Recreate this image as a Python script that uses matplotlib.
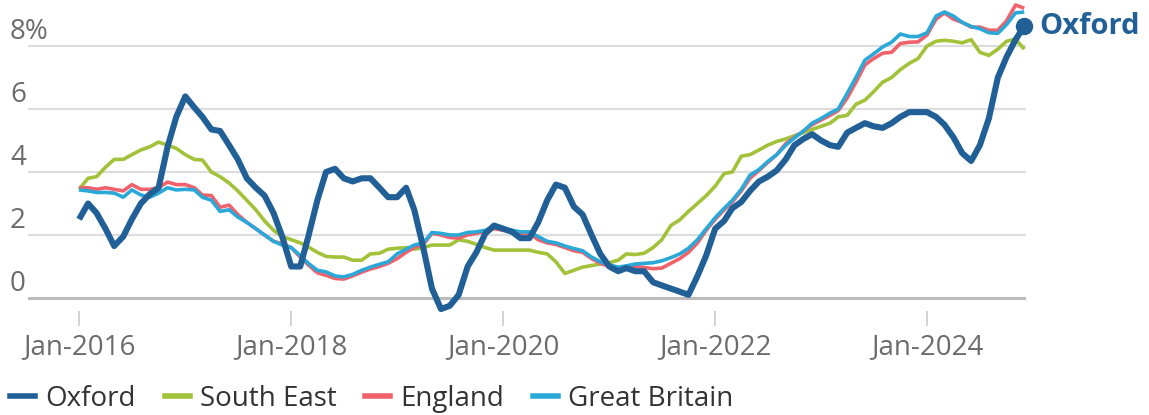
import matplotlib
matplotlib.use("Agg")
import matplotlib.pyplot as plt
import numpy as np
import pandas as pd
from matplotlib.lines import Line2D

plt.rcParams['font.family'] = ['Open Sans', 'DejaVu Sans']

# Monthly data Jan-2016 .. Dec-2024 (annual % change)
months = pd.date_range("2016-01-01", periods=108, freq="MS")

oxford = [2.5, 3.0, 2.7, 2.2, 1.65, 1.95, 2.5, 3.0, 3.3, 3.5, 4.8, 5.75,
          6.4, 6.05, 5.75, 5.35, 5.3, 4.85, 4.4, 3.8, 3.5, 3.25, 2.7, 1.95,
          1.0, 1.0, 1.95, 3.1, 4.0, 4.1, 3.8, 3.7, 3.8, 3.8, 3.5, 3.2,
          3.2, 3.5, 2.8, 1.6, 0.3, -0.35, -0.25, 0.1, 1.0, 1.45, 2.05, 2.3,
          2.2, 2.1, 1.9, 1.9, 2.4, 3.1, 3.6, 3.5, 2.9, 2.65, 2.0, 1.4,
          1.0, 0.85, 0.95, 0.85, 0.85, 0.5, 0.4, 0.3, 0.2, 0.1, 0.7, 1.35,
          2.2, 2.45, 2.85, 3.05, 3.4, 3.7, 3.85, 4.05, 4.4, 4.85, 5.05, 5.2,
          5.0, 4.85, 4.8, 5.25, 5.4, 5.55, 5.45, 5.4, 5.55, 5.75, 5.9, 5.9,
          5.9, 5.75, 5.5, 5.1, 4.6, 4.35, 4.85, 5.7, 7.0, 7.65, 8.2, 8.63]

south_east = [3.45, 3.8, 3.85, 4.15, 4.4, 4.4, 4.55, 4.7, 4.8, 4.95, 4.85, 4.75,
              4.55, 4.4, 4.38, 4.0, 3.85, 3.65, 3.4, 3.1, 2.8, 2.45, 2.15, 1.95,
              1.85, 1.75, 1.62, 1.45, 1.32, 1.3, 1.3, 1.2, 1.2, 1.4, 1.42, 1.55,
              1.58, 1.6, 1.55, 1.6, 1.68, 1.68, 1.68, 1.85, 1.8, 1.7, 1.6, 1.52,
              1.52, 1.52, 1.52, 1.52, 1.45, 1.4, 1.15, 0.78, 0.88, 0.98, 1.03, 1.08,
              1.12, 1.2, 1.4, 1.38, 1.42, 1.6, 1.85, 2.3, 2.48, 2.75, 3.0, 3.25,
              3.55, 3.95, 4.0, 4.5, 4.55, 4.7, 4.85, 4.97, 5.05, 5.15, 5.25, 5.35,
              5.45, 5.55, 5.75, 5.8, 6.15, 6.28, 6.55, 6.85, 7.0, 7.25, 7.45, 7.6,
              8.0, 8.15, 8.18, 8.15, 8.1, 8.2, 7.8, 7.7, 7.9, 8.15, 8.22, 7.9]

england = [3.5, 3.5, 3.45, 3.5, 3.45, 3.4, 3.6, 3.45, 3.45, 3.5, 3.68, 3.6,
           3.6, 3.5, 3.27, 3.25, 2.88, 2.95, 2.65, 2.4, 2.2, 2.0, 1.8, 1.72,
           1.6, 1.3, 1.05, 0.8, 0.72, 0.62, 0.6, 0.7, 0.82, 0.92, 1.0, 1.1,
           1.25, 1.45, 1.6, 1.7, 2.05, 2.0, 1.92, 1.9, 2.0, 2.05, 2.12, 2.2,
           2.15, 2.1, 2.05, 2.05, 1.85, 1.75, 1.7, 1.6, 1.5, 1.45, 1.25, 1.1,
           1.0, 0.95, 0.98, 1.0, 0.97, 0.93, 0.95, 1.1, 1.25, 1.45, 1.75, 2.15,
           2.5, 2.8, 3.05, 3.4, 3.8, 4.05, 4.3, 4.55, 4.9, 5.1, 5.3, 5.5,
           5.65, 5.8, 5.95, 6.35, 6.85, 7.4, 7.6, 7.77, 7.8, 8.08, 8.12, 8.13,
           8.35, 8.85, 9.05, 8.85, 8.75, 8.6, 8.6, 8.5, 8.5, 8.8, 9.3, 9.2]

great_britain = [3.43, 3.4, 3.35, 3.35, 3.33, 3.2, 3.43, 3.27, 3.2, 3.33, 3.5, 3.43,
                 3.45, 3.43, 3.2, 3.1, 2.75, 2.8, 2.57, 2.4, 2.2, 2.0, 1.8, 1.68,
                 1.6, 1.35, 1.1, 0.88, 0.83, 0.7, 0.67, 0.75, 0.88, 0.98, 1.07, 1.15,
                 1.4, 1.55, 1.68, 1.75, 2.08, 2.05, 2.0, 2.0, 2.08, 2.1, 2.15, 2.25,
                 2.2, 2.15, 2.1, 2.1, 1.95, 1.8, 1.75, 1.65, 1.57, 1.5, 1.3, 1.15,
                 1.05, 0.98, 1.02, 1.08, 1.1, 1.12, 1.18, 1.28, 1.4, 1.58, 1.85, 2.2,
                 2.55, 2.85, 3.1, 3.45, 3.9, 4.08, 4.33, 4.55, 4.85, 5.08, 5.3, 5.55,
                 5.7, 5.87, 6.0, 6.5, 7.0, 7.55, 7.75, 7.97, 8.12, 8.38, 8.3, 8.3,
                 8.42, 8.95, 9.08, 8.95, 8.75, 8.62, 8.55, 8.42, 8.4, 8.68, 9.05, 9.08]

series_names = ["Oxford", "South East", "England", "Great Britain"]
colors = {"Oxford": "#215f97", "South East": "#a2c23a",
          "England": "#f0626b", "Great Britain": "#2aa8d8"}
widths = {"Oxford": 4.4, "South East": 2.6, "England": 2.6, "Great Britain": 2.6}

xtick_dates = pd.to_datetime(["2016-01-01", "2018-01-01", "2020-01-01",
                              "2022-01-01", "2024-01-01"])
xtick_labels = ["Jan-2016", "Jan-2018", "Jan-2020", "Jan-2022", "Jan-2024"]
yticks = [0, 2, 4, 6, 8]
ytick_labels = ["0", "2", "4", "6", "8%"]

FS = 20
W, H = 1149, 415
fig = plt.figure(figsize=(W / 100, H / 100), dpi=100)
ax_left, ax_right = 28, 1026
ax_top, ax_bot = 0.3, 310.6
ax = fig.add_axes([ax_left / W, 1 - ax_bot / H, (ax_right - ax_left) / W, (ax_bot - ax_top) / H])

ax.set_xlim(months[0] - pd.Timedelta(days=176), months[-1] + pd.Timedelta(days=6))
ax.set_ylim(-0.4, 9.45)

data = {"Oxford": oxford, "South East": south_east,
        "England": england, "Great Britain": great_britain}
order = ["South East", "England", "Great Britain", "Oxford"]
for name in order:
    ax.plot(months, data[name], color=colors[name], lw=widths[name],
            solid_joinstyle="round", solid_capstyle="butt", zorder=3 + order.index(name),
            clip_on=False)

# end marker + label
ax.plot([months[-1]], [oxford[-1]], "o", color=colors["Oxford"], ms=11.5,
        zorder=10, clip_on=False)
ax.annotate("Oxford", xy=(months[-1], oxford[-1]), xytext=(11, 0),
            textcoords="offset points", va="center", ha="left",
            fontsize=21, fontweight="bold", color=colors["Oxford"],
            annotation_clip=False)

# grid
for v in yticks[1:]:
    ax.axhline(v, color="#dddddd", lw=1.6, zorder=1)
ax.axhline(0, color="#bbbbbb", lw=2.2, zorder=2)

for s in ax.spines.values():
    s.set_visible(False)
ax.set_yticks([])
ax.set_xticks(xtick_dates)
ax.set_xticklabels(xtick_labels, fontsize=FS, color="#6b6b6b")
ax.tick_params(axis="x", length=11, width=1.3, color="#d0d0d0", pad=5)

for v, lab in zip(yticks, ytick_labels):
    ax.annotate(lab, xy=(0, v), xycoords=("axes fraction", "data"),
                xytext=(-13, 4.7), textcoords="offset points",
                ha="left", va="baseline", fontsize=FS, color="#6b6b6b",
                annotation_clip=False)

handles = [Line2D([], [], color=colors[n], lw=4) for n in series_names]
leg = fig.legend(handles, series_names, loc="center left",
                 bbox_to_anchor=(10 / W, 1 - 399 / H), ncol=4, frameon=False,
                 fontsize=FS, handlelength=0.9, handletextpad=0.36,
                 columnspacing=1.05, borderaxespad=0, borderpad=0)
for t in leg.get_texts():
    t.set_color("#333333")

fig.savefig("out.png", dpi=100)
